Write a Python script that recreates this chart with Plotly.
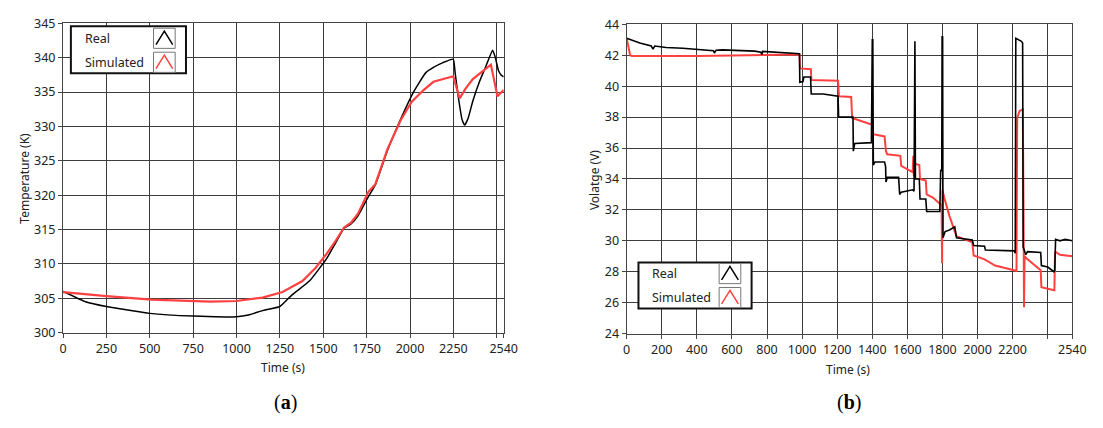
import plotly.graph_objects as go

W, H = 1103, 428

# ---------------- data ----------------
temp_time_real = [0, 130, 250, 500, 750, 1000, 1075, 1150, 1250, 1320, 1420, 1520, 1570, 1620, 1660,
                  1700, 1760, 1800, 1870, 1945, 2020, 2090, 2135, 2190, 2249, 2260, 2280, 2300, 2315,
                  2335, 2362, 2400, 2438, 2476, 2490, 2510, 2525, 2540]
temp_real = [306.0, 304.5, 303.8, 302.8, 302.4, 302.3, 302.6, 303.2, 303.8, 305.5, 307.5, 310.8, 313.0,
             315.2, 315.8, 317.0, 319.8, 321.5, 326.5, 331.0, 335.0, 337.8, 338.6, 339.3, 339.8, 337.8,
             334.0, 331.0, 330.2, 331.2, 333.7, 336.5, 338.8, 341.1, 340.2, 338.1, 337.5, 337.2]

temp_time_sim = [0, 250, 510, 750, 850, 1000, 1150, 1265, 1380, 1455, 1520, 1570, 1620, 1660, 1700,
                 1760, 1800, 1870, 1946, 2010, 2078, 2135, 2192, 2249, 2286, 2320, 2362, 2428, 2466,
                 2504, 2540]
temp_sim = [305.9, 305.3, 304.8, 304.6, 304.5, 304.6, 305.1, 305.9, 307.5, 309.4, 311.5, 313.3, 315.3,
            316.0, 317.3, 320.5, 321.6, 326.7, 330.9, 333.6, 335.3, 336.5, 336.9, 337.3, 334.1, 335.5,
            336.9, 338.3, 339.0, 334.4, 335.3]

volt_time_real = [0, 75, 140, 150, 160, 225, 320, 495, 500, 510, 545, 730, 765, 770, 775, 960, 985, 987,
                  1005, 1010, 1048, 1052, 1120, 1205, 1208, 1290, 1292, 1300, 1395, 1400, 1403, 1406,
                  1415, 1470, 1476, 1478, 1485, 1550, 1556, 1565, 1630, 1638, 1640, 1643, 1646, 1668,
                  1672, 1705, 1710, 1785, 1790, 1796, 1798, 1801, 1803, 1815, 1840, 1870, 1880, 1970,
                  1978, 2040, 2045, 2210, 2215, 2218, 2250, 2257, 2260, 2275, 2285, 2360, 2364, 2400,
                  2435, 2440, 2445, 2470, 2500, 2540]
volt_real = [43.1, 42.8, 42.6, 42.4, 42.6, 42.5, 42.45, 42.3, 42.15, 42.33, 42.35, 42.27, 42.2, 42.05,
             42.25, 42.1, 42.1, 40.25, 40.3, 40.6, 40.6, 39.5, 39.5, 39.35, 38.0, 38.0, 35.8, 36.3,
             36.35, 43.0, 43.0, 34.9, 35.1, 35.1, 34.8, 33.8, 34.1, 34.1, 33.0, 33.15, 33.3, 33.2,
             42.9, 42.9, 34.0, 34.0, 32.7, 32.7, 31.9, 31.9, 34.6, 34.5, 43.2, 43.2, 30.2, 30.6,
             30.7, 30.9, 30.2, 30.05, 29.7, 29.65, 29.4, 29.35, 29.2, 43.1, 42.9, 42.8, 29.6, 29.1,
             29.3, 29.25, 28.4, 28.3, 28.0, 28.1, 30.1, 30.0, 30.1, 30.0]

volt_time_sim = [0, 20, 30, 400, 700, 985, 988, 1050, 1053, 1205, 1210, 1280, 1285, 1400, 1405, 1470,
                 1478, 1485, 1560, 1565, 1630, 1634, 1637, 1640, 1668, 1672, 1705, 1710, 1745, 1795,
                 1798, 1800, 1810, 1840, 1880, 1970, 1978, 2040, 2100, 2170, 2218, 2222, 2226, 2240,
                 2258, 2262, 2265, 2268, 2280, 2360, 2364, 2400, 2438, 2442, 2470, 2540]
volt_sim = [43.1, 42.0, 41.95, 41.95, 42.0, 42.05, 41.15, 41.1, 40.4, 40.35, 39.35, 39.3, 37.95, 37.5,
            36.9, 36.75, 35.8, 35.6, 35.5, 34.85, 34.45, 35.5, 34.2, 35.0, 34.9, 34.0, 33.9, 33.0,
            32.8, 32.3, 28.55, 33.3, 32.8, 31.6, 30.3, 29.9, 29.05, 28.8, 28.4, 28.2, 28.07, 28.0,
            37.95, 38.4, 38.5, 32.1, 25.7, 29.0, 28.85, 28.1, 27.0, 26.9, 26.8, 29.3, 29.1, 29.0]

left_xticks = [0, 250, 500, 750, 1000, 1250, 1500, 1750, 2000, 2250, 2500, 2540]
left_xlabels = ["0", "250", "500", "750", "1000", "1250", "1500", "1750", "2000", "2250", "", "2540"]
right_xticks = [0, 200, 400, 600, 800, 1000, 1200, 1400, 1600, 1800, 2000, 2200, 2400, 2540]
right_xlabels = ["0", "200", "400", "600", "800", "1000", "1200", "1400", "1600", "1800", "2000",
                 "2200", "", "2540"]
series_names = ["Real", "Simulated"]
series_colors = ["#000000", "#ff4040"]

# ---------------- figure ----------------
def px(x):
    return x / W

def py(y):
    return 1 - y / H

fig = go.Figure()
fig.add_trace(go.Scatter(x=temp_time_real, y=temp_real, mode="lines", name=series_names[0],
                         line=dict(color=series_colors[0], width=1.5, shape="spline", smoothing=0.4),
                         xaxis="x", yaxis="y"))
fig.add_trace(go.Scatter(x=temp_time_sim, y=temp_sim, mode="lines", name=series_names[1],
                         line=dict(color=series_colors[1], width=2.2), xaxis="x", yaxis="y"))
fig.add_trace(go.Scatter(x=volt_time_sim, y=volt_sim, mode="lines", name=series_names[1],
                         line=dict(color=series_colors[1], width=2), xaxis="x2", yaxis="y2"))
fig.add_trace(go.Scatter(x=volt_time_real, y=volt_real, mode="lines", name=series_names[0],
                         line=dict(color=series_colors[0], width=1.6), xaxis="x2", yaxis="y2"))

font_tick = dict(family="Noto Sans, Open Sans, sans-serif", size=12.5, color="#222")
common_axis = dict(showline=True, linecolor="#444", linewidth=1, mirror=True,
                   showgrid=True, gridcolor="#3c3c3c", gridwidth=1, zeroline=False,
                   ticks="outside", ticklen=4, tickcolor="#444", tickfont=font_tick)

fig.update_layout(
    width=W, height=H,
    margin=dict(l=0, r=0, t=0, b=0),
    paper_bgcolor="white", plot_bgcolor="white",
    showlegend=False,
    xaxis=dict(domain=[px(60), px(508)], range=[0, 2540], tickmode="array",
               tickvals=left_xticks, ticktext=left_xlabels, anchor="y", **common_axis),
    yaxis=dict(domain=[py(337), py(15)], range=[300, 345], dtick=5, tick0=300, anchor="x",
               **common_axis),
    xaxis2=dict(domain=[px(633), px(1086)], range=[0, 2540], tickmode="array",
                tickvals=right_xticks, ticktext=right_xlabels, anchor="y2", **common_axis),
    yaxis2=dict(domain=[py(338), py(16)], range=[24, 44], dtick=2, tick0=24, anchor="x2",
                **common_axis),
)

ann_font = dict(family="Noto Sans, Open Sans, sans-serif", size=12, color="#222")
annotations = [
    dict(text="Time (s)", x=px(284), y=py(373), xref="paper", yref="paper", showarrow=False,
         font=ann_font, xanchor="center", yanchor="middle"),
    dict(text="Temperature (K)", x=px(20), y=py(176), xref="paper", yref="paper", showarrow=False,
         font=ann_font, textangle=-90, xanchor="center", yanchor="middle"),
    dict(text="Time (s)", x=px(858), y=py(375), xref="paper", yref="paper", showarrow=False,
         font=ann_font, xanchor="center", yanchor="middle"),
    dict(text="Volatge (V)", x=px(601), y=py(178), xref="paper", yref="paper", showarrow=False,
         font=ann_font, textangle=-90, xanchor="center", yanchor="middle"),
    dict(text="(<b>a</b>)", x=px(286), y=py(410), xref="paper", yref="paper", showarrow=False,
         font=dict(family="Liberation Serif, serif", size=20, color="#000"), xanchor="center",
         yanchor="middle"),
    dict(text="(<b>b</b>)", x=px(859), y=py(410), xref="paper", yref="paper", showarrow=False,
         font=dict(family="Liberation Serif, serif", size=20, color="#000"), xanchor="center",
         yanchor="middle"),
]

shapes = []

def legend(x0, y0, x1, y1, ix0, ix1, rows, textx):
    shapes.append(dict(type="rect", xref="paper", yref="paper", x0=px(x0), x1=px(x1),
                       y0=py(y1), y1=py(y0), line=dict(color="#111", width=2), fillcolor="white",
                       layer="above"))
    for (ry0, ry1), name, col in zip(rows, series_names, series_colors):
        shapes.append(dict(type="rect", xref="paper", yref="paper", x0=px(ix0), x1=px(ix1),
                           y0=py(ry1), y1=py(ry0), line=dict(color="#777", width=1),
                           fillcolor="white", layer="above"))
        mx = (ix0 + ix1) / 2
        path = "M {},{} L {},{} L {},{}".format(px(ix0 + 2.5), py(ry1 - 4), px(mx), py(ry0 + 3),
                                                  px(ix1 - 2.5), py(ry1 - 4))
        shapes.append(dict(type="path", xref="paper", yref="paper", path=path,
                           line=dict(color=col, width=1.5), layer="above"))
        annotations.append(dict(text=name, x=px(textx), y=py((ry0 + ry1) / 2), xref="paper",
                                yref="paper", showarrow=False, xanchor="left", yanchor="middle",
                                font=dict(family="Noto Sans, Open Sans, sans-serif", size=12.5,
                                          color="#222")))

legend(68, 18, 185, 67, 152, 174, [(20, 41), (45, 66)], 80)
legend(645, 264, 760, 312, 727, 749, [(265, 286), (290, 311)], 657)

fig.update_layout(annotations=annotations, shapes=shapes)
fig.write_html("out.html")
